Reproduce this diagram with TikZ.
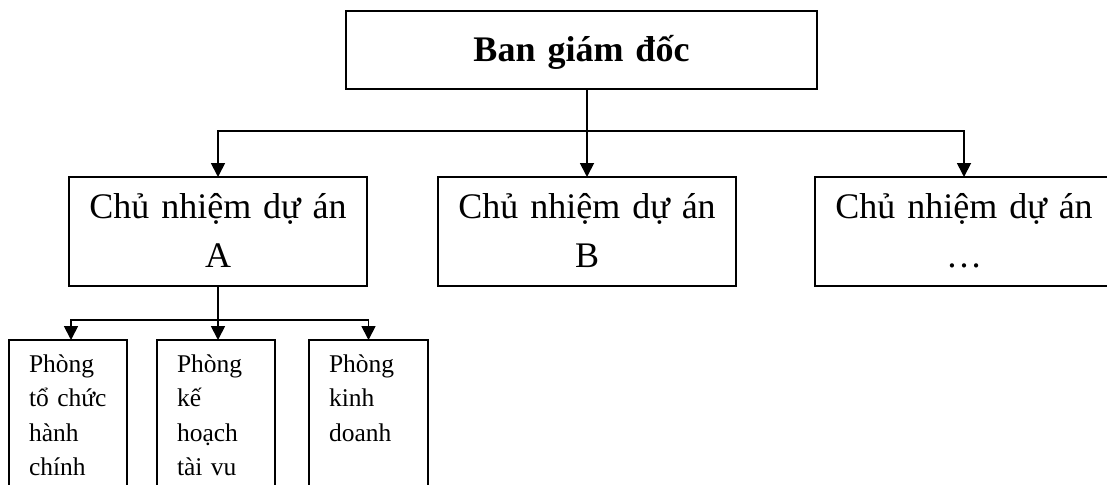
\documentclass[tikz,border=0pt]{standalone}
\usepackage{fontspec}
\setmainfont{Liberation Serif}[WordSpace={0.7,0,0}]
\usetikzlibrary{arrows.meta}
\begin{document}
\begin{tikzpicture}[x=1pt,y=-1pt,
  box/.style={draw, line width=1.8pt, rectangle, inner sep=0pt, outer sep=0pt, anchor=north west},
  headbox/.style={box, text width=471pt, align=center,
    font=\fontsize{36}{49}\selectfont\bfseries,
    text height=51pt, text depth=27pt},
  projbox/.style={box, text width=298pt, align=center,
    font=\fontsize{36}{49}\selectfont,
    text height=41pt, text depth=68pt},
  deptbox/.style={box, inner xsep=20pt, align=left,
    font=\fontsize{25.5}{34.5}\selectfont,
    text height=32pt, text depth=160pt},
  link/.style={line width=1.8pt},
  arrowlink/.style={link, -{Triangle[width=14pt,length=14pt]}}
]
\useasboundingbox (0,0) rectangle (1107,484);
\fill[white] (0,0) rectangle (1107,484);
\clip (0,0) rectangle (1107,484);

% management board
\node[headbox] (ban) at (346,11) {Ban giám đốc};

% project managers
\node[projbox] (duanA) at (69,177)  {Chủ nhiệm dự án\\A};
\node[projbox] (duanB) at (438,177) {Chủ nhiệm dự án\\B};
\node[projbox] (duanC) at (815,177) {Chủ nhiệm dự án\\…};

% departments under project A
\node[deptbox, text width=78pt] (p1) at (9,340)   {Phòng\\\mbox{tổ chức}\\hành\\chính};
\node[deptbox, text width=78pt] (p2) at (157,340) {Phòng\\kế\\hoạch\\tài vu};
\node[deptbox, text width=79pt] (p3) at (309,340) {Phòng\\kinh\\doanh};

% levels of the two horizontal bus lines
\coordinate (bus) at (0,131);
\coordinate (lowbus) at (0,320);

% board -> project managers
\coordinate (j0) at (duanB.north |- bus);
\draw[link] (ban.south -| j0) -- (j0);
\draw[arrowlink] (j0) -- (duanB.north);
\draw[arrowlink] (j0) -| (duanA.north);
\draw[arrowlink] (j0) -| (duanC.north);

% project A -> departments
\coordinate (j1) at (duanA.south |- lowbus);
\draw[link] (duanA.south) -- (j1);
\draw[arrowlink] (j1) -- (j1 |- p2.north);
\draw[arrowlink] (j1) -| ([xshift=3pt]p1.north);
\draw[arrowlink] (j1) -| (p3.north);
\end{tikzpicture}
\end{document}
